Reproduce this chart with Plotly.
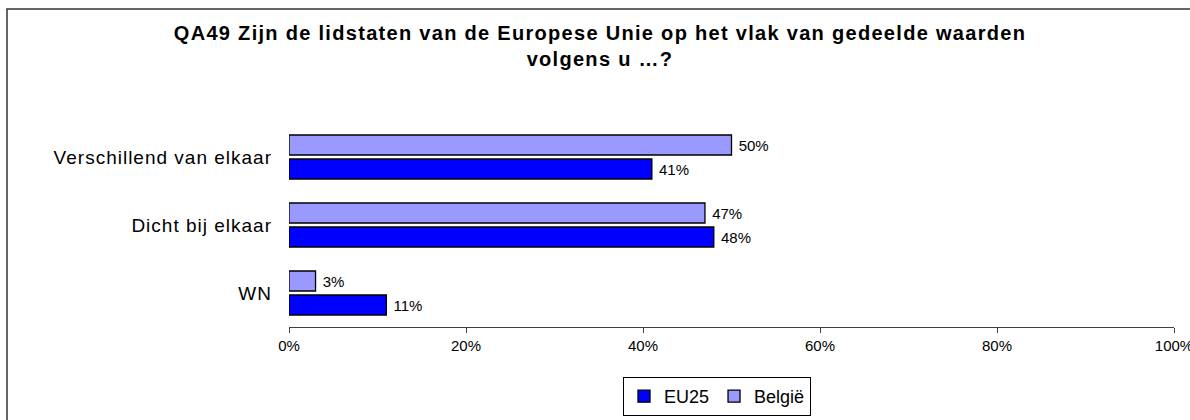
import plotly.graph_objects as go

categories = ["Verschillend van elkaar", "Dicht bij elkaar", "WN"]
eu25 = [41, 48, 11]
belgie = [50, 47, 3]
x_ticks = [0, 20, 40, 60, 80, 100]
x_tick_labels = ["0%", "20%", "40%", "60%", "80%", "100%"]

FONT = "Arial, 'Liberation Sans', sans-serif"
W, H = 1190, 420
L, R, T, B = 289, 16, 123, 93
NBSP = "\u00a0"

fig = go.Figure()
fig.add_trace(go.Bar(
    y=categories, x=eu25, name="EU25", orientation="h",
    marker=dict(color="#0000FF", line=dict(color="black", width=1.3)),
    text=[f"{NBSP}{v}%" for v in eu25], textposition="outside",
    textfont=dict(family=FONT, size=15, color="black"), cliponaxis=False,
))
fig.add_trace(go.Bar(
    y=categories, x=belgie, name="België", orientation="h",
    marker=dict(color="#9999FF", line=dict(color="black", width=1.3)),
    text=[f"{NBSP}{v}%" for v in belgie], textposition="outside",
    textfont=dict(family=FONT, size=15, color="black"), cliponaxis=False,
))

pw = W - L - R
ph = H - T - B
def px2x(px):
    return (px - L) / pw
def py2y(py):
    return (H - B - py) / ph

fig.update_layout(
    width=W, height=H,
    margin=dict(l=L, r=R, t=T, b=B, autoexpand=False),
    paper_bgcolor="white", plot_bgcolor="white",
    barmode="group", bargap=0.294, bargroupgap=0.167,
    font=dict(family=FONT, color="black"),
    title=dict(
        text="<b>QA49 Zijn de lidstaten van de Europese Unie op het vlak van gedeelde waarden<br>volgens u …?</b>",
        x=600 / W, xref="container", xanchor="center",
        y=1 - 40 / H, yref="container", yanchor="top",
        font=dict(family=FONT, size=20, color="black"),
    ),
    xaxis=dict(
        range=[0, 100], tickvals=x_ticks, ticktext=x_tick_labels,
        showgrid=False, zeroline=False,
        showline=True, linecolor="#404040", linewidth=1,
        ticks="outside", ticklen=5, tickcolor="#404040",
        tickfont=dict(family=FONT, size=15, color="black"),
        ticklabeloverflow="allow",
        fixedrange=True,
    ),
    yaxis=dict(
        categoryorder="array", categoryarray=categories[::-1],
        showgrid=False, zeroline=False, showline=False, ticks="",
        ticklabelstandoff=16,
        tickfont=dict(family=FONT, size=19, color="black"),
        fixedrange=True,
    ),
    showlegend=True,
    legend=dict(
        orientation="h", traceorder="normal",
        xref="container", yref="container",
        x=623 / W, xanchor="left", y=1 - 377 / H, yanchor="top",
        bgcolor="white", bordercolor="black", borderwidth=1,
        font=dict(family=FONT, size=18, color="black"),
        itemwidth=30,
    ),
    shapes=[dict(
        type="rect", xref="paper", yref="paper",
        x0=px2x(7), x1=px2x(1196), y0=py2y(426), y1=py2y(9),
        line=dict(color="#333333", width=1.5), fillcolor="rgba(0,0,0,0)",
        layer="below",
    )],
)

post = """
document.body.style.margin = '0';
document.body.style.overflow = 'hidden';
document.querySelectorAll('.gtitle').forEach(function(e){ e.style.letterSpacing = '1.3px'; });
document.querySelectorAll('.ytick text').forEach(function(e){ e.style.letterSpacing = '1px'; });
"""

fig.write_html("out.html", post_script=post, config={"displayModeBar": False})
